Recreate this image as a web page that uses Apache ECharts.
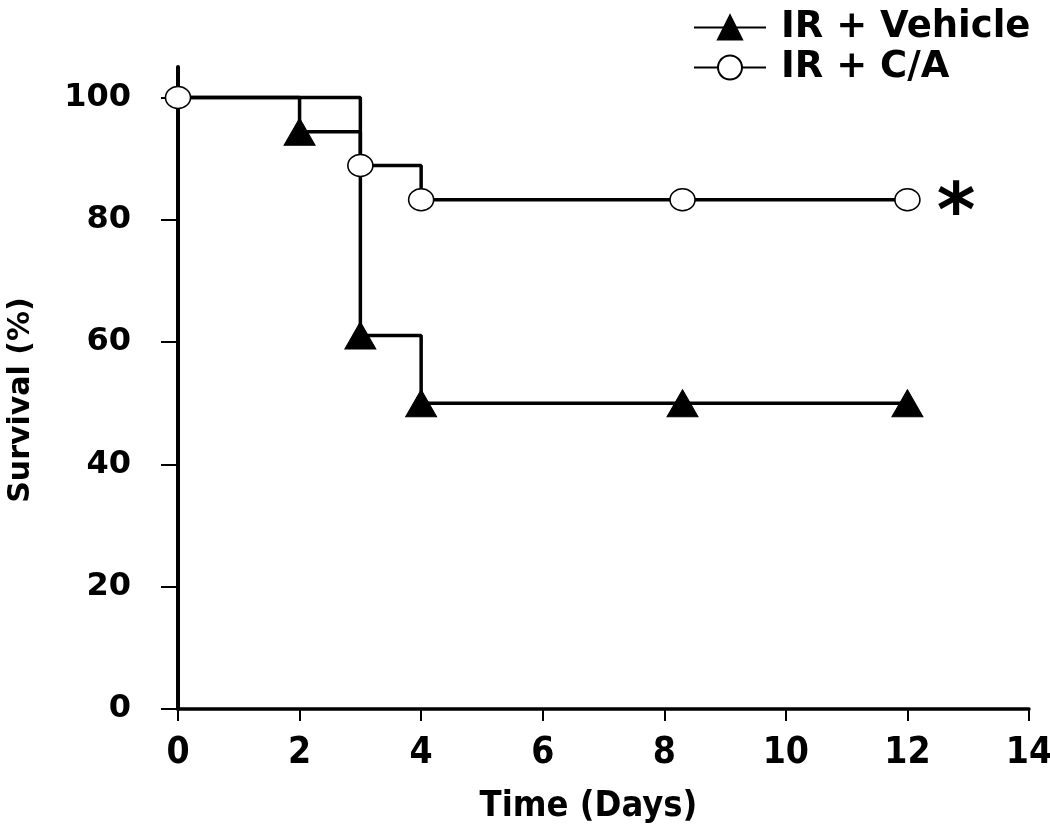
<!DOCTYPE html>
<html>
<head>
<meta charset="utf-8">
<script src="https://cdn.jsdelivr.net/npm/echarts@6/dist/echarts.min.js"></script>
<style>
html,body{margin:0;padding:0;background:#fff;}
#chart{width:1050px;height:832px;}
</style>
</head>
<body>
<div id="chart"></div>
<script>
// Data
var vehicleDays = [0, 2, 3, 4, 8.3, 12];
var vehicleSurvival = [100, 94.4, 61.1, 50, 50, 50];
var caDays = [0, 3, 4, 8.3, 12];
var caSurvival = [100, 88.9, 83.3, 83.3, 83.3];
var xTicks = [0, 2, 4, 6, 8, 10, 12, 14];
var yTicks = [0, 20, 40, 60, 80, 100];
var seriesNames = ['IR + Vehicle', 'IR + C/A'];
var significanceMark = '*';

var vehicleData = vehicleDays.map(function (d, i) {
  var item = { value: [d, vehicleSurvival[i]] };
  if (i === 0) { item.symbol = 'none'; }
  return item;
});
var caData = caDays.map(function (d, i) {
  var item = { value: [d, caSurvival[i]] };
  if (i === caDays.length - 1) {
    item.label = {
      show: true, position: 'right', formatter: significanceMark,
      fontFamily: 'DejaVu Sans', fontWeight: 'bold', fontSize: 74,
      color: '#000', distance: 16, offset: [0, 17]
    };
  }
  return item;
});

var chart = echarts.init(document.getElementById('chart'), null, { renderer: 'canvas' });
chart.setOption({
  animation: false,
  backgroundColor: '#fff',
  grid: { left: 178, right: 21, top: 67, bottom: 123, containLabel: false, outerBoundsMode: 'none' },
  legend: {
    orient: 'vertical', left: 688, top: 4,
    itemWidth: 72, itemHeight: 30, itemGap: 3,
    textStyle: { fontFamily: 'DejaVu Sans', fontWeight: 'bold', fontSize: 37, color: '#000', padding: [0, 0, 0, 10] },
    data: seriesNames
  },
  xAxis: {
    type: 'value', min: xTicks[0], max: xTicks[xTicks.length - 1], interval: 2,
    name: 'Time (Days)', nameLocation: 'middle', nameGap: 80,
    nameTextStyle: { fontFamily: 'Liberation Sans Narrow, DejaVu Sans Condensed, DejaVu Sans', fontWeight: 'bold', fontSize: 36, color: '#000', padding: [0, 30, 0, 0] },
    axisLine: { show: true, lineStyle: { color: '#000', width: 3.5 } },
    axisTick: { show: true, inside: false, length: 12, lineStyle: { color: '#000', width: 2 } },
    axisLabel: { fontFamily: 'Liberation Sans Narrow, DejaVu Sans Condensed, DejaVu Sans', fontWeight: 'bold', fontSize: 37, color: '#000', margin: 26, hideOverlap: false },
    splitLine: { show: false }
  },
  yAxis: {
    type: 'value', min: 0, max: 105, interval: 20,
    name: 'Survival (%)', nameLocation: 'middle', nameGap: 142,
    nameTextStyle: { fontFamily: 'DejaVu Sans', fontWeight: 'bold', fontSize: 30, color: '#000', padding: [0, 24, 0, 0] },
    axisLine: { show: true, lineStyle: { color: '#000', width: 4 } },
    axisTick: { show: true, inside: false, length: 17, customValues: yTicks, lineStyle: { color: '#000', width: 2 } },
    axisLabel: {
      fontFamily: 'DejaVu Sans', fontWeight: 'bold', fontSize: 32, color: '#000', margin: 47,
      customValues: yTicks
    },
    splitLine: { show: false }
  },
  series: [
    {
      name: seriesNames[0], type: 'line', step: 'end',
      data: vehicleData,
      symbol: 'triangle', symbolSize: [31, 27],
      lineStyle: { color: '#000', width: 3.5 },
      itemStyle: { color: '#000', borderColor: '#000', borderWidth: 1 },
      z: 2
    },
    {
      name: seriesNames[1], type: 'line', step: 'end',
      data: caData,
      symbol: 'circle', symbolSize: [25, 22],
      lineStyle: { color: '#000', width: 3.5 },
      itemStyle: { color: '#fff', borderColor: '#000', borderWidth: 1.5 },
      z: 3
    }
  ]
});
</script>
</body>
</html>
